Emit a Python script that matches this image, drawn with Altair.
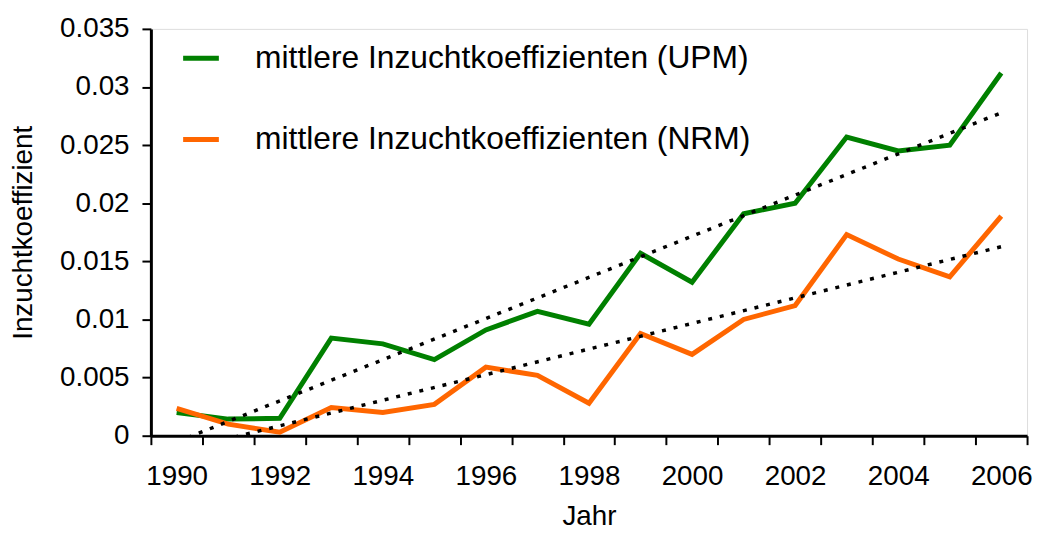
import altair as alt
import pandas as pd

years = list(range(1990, 2007))
upm = [0.0020, 0.00143, 0.0015, 0.0084, 0.0079, 0.00655, 0.0091, 0.0107, 0.0096,
       0.0157, 0.0132, 0.0191, 0.0200, 0.0257, 0.0245, 0.0250, 0.0312]
nrm = [0.00235, 0.0010, 0.0003, 0.00243, 0.0020, 0.0027, 0.0059, 0.0052, 0.0028,
       0.0088, 0.0070, 0.0100, 0.0112, 0.0173, 0.0152, 0.01366, 0.0189]
series_names = ["mittlere Inzuchtkoeffizienten (UPM)", "mittlere Inzuchtkoeffizienten (NRM)"]
series_colors = ["#008000", "#FF6600"]
y_ticks = [0, 0.005, 0.01, 0.015, 0.02, 0.025, 0.03, 0.035]
x_tick_values = [y + 0.5 for y in range(1989, 2007)]

rows = []
for name, vals in zip(series_names, [upm, nrm]):
    for yr, v in zip(years, vals):
        rows.append({"year": yr, "value": v, "series": name, "order": series_names.index(name)})
df = pd.DataFrame(rows)

FONT = "Liberation Sans"
PLOT_W = 883
HALF_BAND = PLOT_W / 17 / 2

x_enc = alt.X(
    "year:Q",
    scale=alt.Scale(domain=[1989.5, 2006.5], nice=False, zero=False),
    axis=alt.Axis(
        title="Jahr",
        values=x_tick_values,
        labelExpr="datum.value < 2006 && (datum.value + 0.5) % 2 == 0 ? toString(datum.value + 0.5) : ''",
        labelOffset=HALF_BAND,
        labelOverlap=False,
        labelFlush=False,
        labelBound=False,
        grid=False,
        domainColor="black",
        domainWidth=3,
        tickColor="black",
        tickWidth=2,
        tickSize=9,
        labelFont=FONT,
        labelFontSize=28,
        labelColor="black",
        labelPadding=18,
        titleFont=FONT,
        titleFontSize=28,
        titleFontWeight="normal",
        titleColor="black",
        titlePadding=12,
    ),
)

y_enc = alt.Y(
    "value:Q",
    scale=alt.Scale(domain=[0, 0.035], nice=False),
    axis=alt.Axis(
        title="Inzuchtkoeffizient",
        values=y_ticks,
        format="~g",
        grid=False,
        domainColor="black",
        domainWidth=3,
        tickColor="black",
        tickWidth=2,
        tickSize=9,
        labelFont=FONT,
        labelFontSize=28,
        labelColor="black",
        labelPadding=13,
        titleFont=FONT,
        titleFontSize=28,
        titleFontWeight="normal",
        titleColor="black",
        titlePadding=22,
    ),
)

base = alt.Chart(df)

lines = base.mark_line(strokeWidth=5, strokeJoin="miter").encode(
    x=x_enc,
    y=y_enc,
    color=alt.Color(
        "series:N",
        scale=alt.Scale(domain=series_names, range=series_colors),
        legend=alt.Legend(
            title=None,
            orient="none",
            legendX=30,
            legendY=9,
            padding=0,
            symbolType="stroke",
            symbolSize=1296,
            symbolStrokeWidth=5,
            labelFont=FONT,
            labelFontSize=32,
            labelColor="black",
            labelOffset=34,
            rowPadding=45,
            labelLimit=800,
        ),
    ),
    order=alt.Order("order:Q", sort="descending"),
)

trend = base.transform_regression(
    "year", "value", groupby=["series"], extent=[1990, 2006]
).mark_line(color="black", strokeWidth=3.5, strokeDash=[4, 8], clip=True).encode(
    x="year:Q",
    y="value:Q",
    detail="series:N",
)

chart = alt.layer(lines, trend).properties(
    width=PLOT_W,
    height=410,
    padding={"left": 144, "top": 19, "right": 7, "bottom": 97},
    autosize=alt.AutoSizeParams(type="none"),
).configure_view(stroke=None).configure(background="white")

chart.save("out.html", embed_options={"renderer": "svg", "actions": False})
